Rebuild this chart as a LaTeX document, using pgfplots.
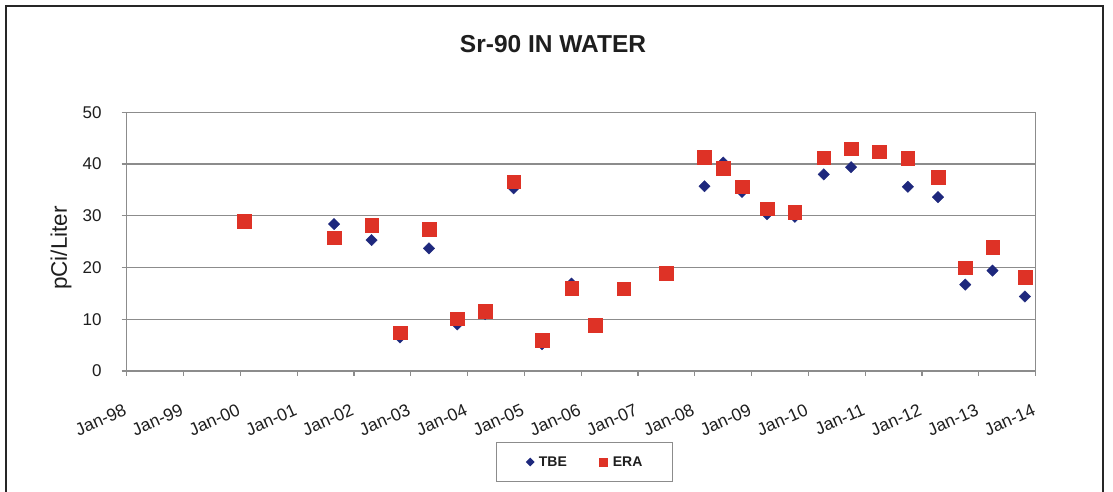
\documentclass[border=0pt]{standalone}
\usepackage{fontspec}
\setmainfont{Liberation Sans}
\usepackage{pgfplots}
\pgfplotsset{compat=1.18}
\definecolor{tbe}{RGB}{30,40,125}
\definecolor{era}{RGB}{222,50,38}
\definecolor{gridc}{RGB}{140,140,140}
\definecolor{txt}{RGB}{30,30,30}
\begin{document}
\begin{tikzpicture}[x=1pt,y=1pt]
\fill[white] (0,0) rectangle (1113,492);
\draw[line width=2pt, color=black!85] (5.5,-10) -- (5.5,486) -- (1103,486) -- (1103,-10);
\node[font=\bfseries\fontsize{24.5}{29}\selectfont, color=txt] at (553,448) {Sr-90 IN WATER};
\node[rotate=90, font=\fontsize{22.5}{27}\selectfont, color=txt] at (61,244) {pCi/Liter};
\begin{axis}[
  at={(126.7pt,121pt)}, anchor=south west,
  width=909pt, height=258.7pt, scale only axis,
  xmin=1998, xmax=2014, ymin=0, ymax=50,
  xtick={1998,1999,...,2014},
  xticklabels={Jan-98,Jan-99,Jan-00,Jan-01,Jan-02,Jan-03,Jan-04,Jan-05,Jan-06,Jan-07,Jan-08,Jan-09,Jan-10,Jan-11,Jan-12,Jan-13,Jan-14},
  ytick={0,10,...,50},
  /pgf/number format/assume math mode=true,
  axis line style={gridc, line width=1.2pt},
  ymajorgrids, major grid style={gridc, line width=1.2pt},
  tick style={gridc, line width=1.2pt},
  tick align=outside, major tick length=5pt,
  xtick pos=bottom, ytick pos=left,
  yticklabel style={font=\fontsize{17}{20}\selectfont, color=txt, anchor=east, inner sep=0pt, xshift=-20pt},
  xticklabel style={font=\fontsize{17.5}{20}\selectfont, color=txt, inner sep=0pt, xshift=-4pt, yshift=-27pt, rotate=24, anchor=north east},
  legend columns=2,
  legend style={at={(0.5036,-0.352)}, anchor=center, draw=gridc, line width=1pt,
    font=\bfseries\fontsize{14}{16}\selectfont, text=txt,
    inner xsep=30pt, inner ysep=14pt, nodes={inner sep=0pt},
    /tikz/every odd column/.style={column sep=5pt},
    /tikz/every even column/.style={column sep=33pt}},
  legend image code/.code={\draw[#1] plot coordinates {(0pt,0pt)};},
]
\addlegendimage{only marks, mark=square*, mark options={rotate=45}, color=tbe, mark size=2.6pt}
\addlegendentry{TBE}
\addlegendimage{only marks, mark=square*, color=era, mark size=4pt}
\addlegendentry{ERA}
\addplot[forget plot, only marks, mark=square*, mark options={rotate=45}, color=tbe, mark size=4pt] coordinates {
(2000.07,29.0) (2001.65,28.4) (2002.31,25.3) (2002.81,6.5) (2003.32,23.7)
(2003.82,9.0) (2004.31,11.0) (2004.81,35.3) (2005.31,5.2) (2005.83,16.9)
(2006.25,8.9) (2006.75,15.8) (2007.5,19.0) (2008.17,35.7) (2008.5,40.3)
(2008.83,34.6) (2009.27,30.3) (2009.76,29.8) (2010.27,38.0) (2010.75,39.4)
(2011.25,42.3) (2011.75,35.6) (2012.28,33.6) (2012.76,16.7) (2013.24,19.4)
(2013.81,14.4)};
\addplot[forget plot, only marks, mark=square*, color=era, mark size=6.8pt,
  mark options={rounded corners=1.5pt}] coordinates {
(2000.07,29.0) (2001.65,25.8) (2002.31,28.2) (2002.81,7.4) (2003.32,27.4)
(2003.82,10.1) (2004.31,11.5) (2004.81,36.6) (2005.31,5.9) (2005.83,16.0)
(2006.25,8.9) (2006.75,15.9) (2007.5,18.9) (2008.17,41.3) (2008.5,39.2)
(2008.83,35.6) (2009.27,31.4) (2009.76,30.7) (2010.27,41.2) (2010.75,43.0)
(2011.25,42.4) (2011.75,41.1) (2012.28,37.4) (2012.76,20.0) (2013.24,23.9)
(2013.81,18.1)};
\end{axis}
\pgfresetboundingbox
\path[use as bounding box] (0,0) rectangle (1113,492);
\end{tikzpicture}
\end{document}
